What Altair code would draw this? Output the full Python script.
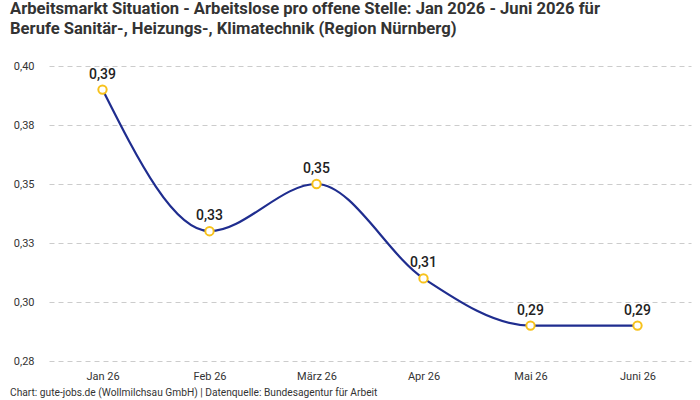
import altair as alt
import pandas as pd

# Monthly ratio of unemployed persons per open position
months = ["Jan 26", "Feb 26", "März 26", "Apr 26", "Mai 26", "Juni 26"]
ratios = [0.39, 0.33, 0.35, 0.31, 0.29, 0.29]
y_ticks = [0.275, 0.3, 0.325, 0.35, 0.375, 0.4]

title_lines = [
    "Arbeitsmarkt Situation - Arbeitslose pro offene Stelle: Jan 2026 - Juni 2026 für",
    "Berufe Sanitär-, Heizungs-, Klimatechnik (Region Nürnberg)",
]
footer = "Chart: gute-jobs.de (Wollmilchsau GmbH) | Datenquelle: Bundesagentur für Arbeit"

df = pd.DataFrame({"monat": months, "wert": ratios})
df["label"] = df["wert"].map(lambda v: f"{v:.2f}".replace(".", ","))

FONT = "Roboto"
W, H = 642, 295

x = alt.X(
    "monat:N",
    sort=months,
    scale=alt.Scale(type="point", padding=0.5),
    axis=alt.Axis(
        title=None, labelAngle=0, domain=False, ticks=False, grid=False,
        labelPadding=9, labelFontSize=11, labelColor="#333333", labelFont=FONT,
    ),
)
y = alt.Y(
    "wert:Q",
    scale=alt.Scale(domain=[0.275, 0.4], nice=False, zero=False),
    axis=alt.Axis(
        title=None, values=y_ticks, domain=False, ticks=False,
        labelExpr="replace(format(datum.value, '.2f'), '.', ',')",
        labelPadding=15, labelFontSize=11, labelColor="#333333", labelFont=FONT,
        grid=True, gridDash=[5, 4], gridColor="#cccccc", gridWidth=1,
    ),
)

base = alt.Chart(df)

line = base.mark_line(interpolate="monotone", color="#1f2d8f", strokeWidth=2.2).encode(x=x, y=y)
points = base.mark_point(
    shape="circle", filled=True, fill="white", stroke="#f7c21c", strokeWidth=2, size=70, opacity=1
).encode(x=x, y=y)
labels = base.mark_text(
    dy=-15, fontSize=14, fontWeight=500, color="#222222", font=FONT, baseline="middle"
).encode(x=x, y=y, text="label:N")

foot = alt.Chart(pd.DataFrame({"t": [footer]})).mark_text(
    align="left", baseline="middle", fontSize=10.2, color="#333333", font=FONT
).encode(x=alt.value(-39), y=alt.value(H + 32), text="t:N")

chart = (
    alt.layer(line, points, labels, foot)
    .properties(
        width=W,
        height=H,
        autosize=alt.AutoSizeParams(type="none"),
        padding={"left": 49, "top": 66, "right": 9, "bottom": 39},
        title=alt.TitleParams(
            text=title_lines, anchor="start", frame="group", dx=-39, offset=22,
            font=FONT, fontSize=16.6, fontWeight="bold", color="#333333", lineHeight=20,
        ),
        background="white",
    )
    .configure_view(stroke=None)
)

chart.save("out.html", embed_options={"renderer": "svg", "actions": False})
